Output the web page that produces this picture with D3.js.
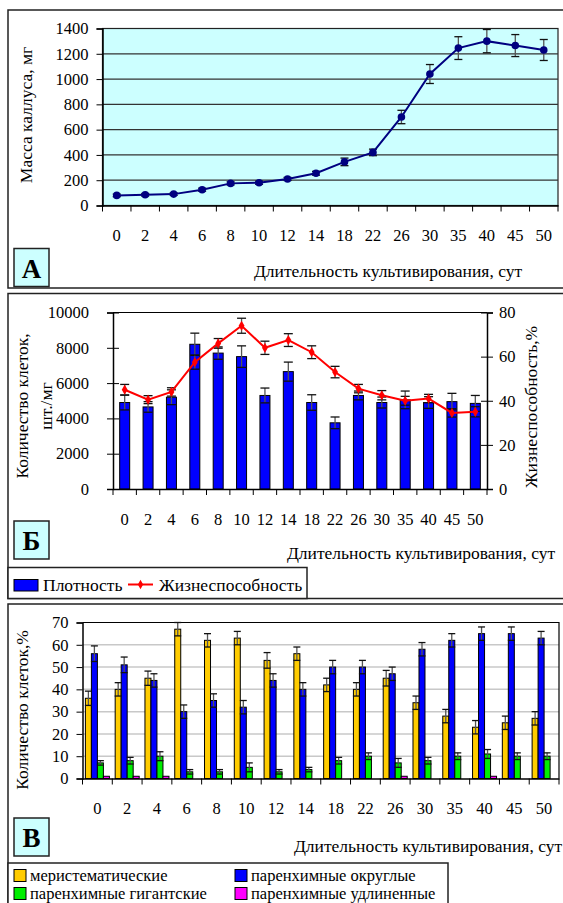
<!DOCTYPE html>
<html lang="ru">
<head>
  <meta charset="UTF-8">
  <title>Культивирование каллуса</title>
  <script src="https://d3js.org/d3.v7.min.js"></script>
  <style>
    body { margin: 0; background: #fff; }
    svg { font-family: "Liberation Serif", "Times New Roman", serif; }
    .tick text { font-size: 16.5px; fill: #000; font-family: "Liberation Serif", "Times New Roman", serif; }
    .domain, .tick line { stroke: #000; }
    .title { font-size: 17.5px; }
    .legend { font-size: 17.5px; }
    .legend-small { font-size: 16.5px; }
    .panel-letter { font-size: 27px; font-weight: bold; }
  </style>
</head>
<body>
<svg id="chart" width="563" height="903"></svg>
<script>
  // --- data ---
  const days = ["0","2","4","6","8","10","12","14","18","22","26","30","35","40","45","50"];

  // А: масса каллуса, мг
  const massMean = [80,85,90,125,175,180,210,255,345,420,700,1040,1245,1300,1265,1230];
  const massErr  = [10,10,10,12,12,12,12,15,30,26,53,75,90,92,87,83];
  const massTicks = [0,200,400,600,800,1000,1200,1400];

  // Б: плотность (шт./мг) и жизнеспособность (%)
  const density    = [4900,4650,5200,8200,7700,7500,5300,6650,4900,3750,5300,4900,5050,4900,4950,4850];
  const densityErr = [420,300,420,630,350,610,420,540,440,330,250,310,500,330,470,450];
  const viability    = [45,40.5,44,57.5,66,74,64,67.5,62,53,45.5,42.5,40,41,34.5,35];
  const viabilityErr = [2.4,1.8,1.9,3.2,2.2,3.4,3,2.9,2.9,2.6,1.9,2.1,2,1.9,1.9,2.3];
  const densityTicks = [0,2000,4000,6000,8000,10000];
  const viabilityTicks = [0,20,40,60,80];

  // В: доля типов клеток, %
  const merist    = [36,40,45,67,62,63,53,56,42,40,45,34,28,23,25,27];
  const meristErr = [3.2,3,3.2,3,3,3,3.5,3,3,3,3.5,3,3,3,3,3];
  const round     = [56,51,44,30,35,32,44,40,50,50,47,58,62,65,65,63];
  const roundErr  = [3.5,3.5,3,3,3,3,3,3,3,3,3,3,3,3,3,3];
  const giant     = [7,8,10,3,3,5,3,4,8,10,7,8,10,11,10,10];
  const giantErr  = [1,1.5,2,1,1,2,1,1,1.5,1.5,2,1.5,1.5,2,1.5,1.5];
  const elong     = [1,1,1,0,0,0,0,0,0,0,1,0,0,1,0,0];
  const cellTicks = [0,10,20,30,40,50,60,70];

  const cellSeries = [
    {name: "меристематические", values: merist, err: meristErr, color: "#ffcc00"},
    {name: "паренхимные округлые", values: round, err: roundErr, color: "#0000ff"},
    {name: "паренхимные гигантские", values: giant, err: giantErr, color: "#00ee00"},
    {name: "паренхимные удлиненные", values: elong, err: null, color: "#ff00ff"}
  ];

  const xTitle = "Длительность культивирования, сут";

  const svg = d3.select("#chart");

  // panel frames
  function frame(y0, y1) {
    svg.append("rect")
      .attr("x", 8).attr("y", y0)
      .attr("width", 570).attr("height", y1 - y0)
      .attr("fill", "#fff").attr("stroke", "#222").attr("stroke-width", 1.5);
  }
  frame(10, 288);
  frame(293.5, 598.5);
  frame(604, 920);

  function letterBox(y, txt) {
    svg.append("rect")
      .attr("x", 14).attr("y", y).attr("width", 35).attr("height", 38)
      .attr("fill", "#ccffff").attr("stroke", "#222").attr("stroke-width", 1.5);
    svg.append("text").attr("class", "panel-letter")
      .attr("x", 31.5).attr("y", y + 29).attr("text-anchor", "middle")
      .text(txt);
  }

  function styleAxis(ax) {
    ax.attr("font-family", null).attr("font-size", null);
    ax.select(".domain").attr("stroke-width", 1.5);
  }

  // x band axis with tick marks on band boundaries and labels at centers
  function bandAxis(g, x, yPos) {
    const ax = g.append("g").attr("transform", `translate(0,${yPos})`);
    ax.call(d3.axisBottom(x).tickSize(0).tickPadding(24));
    styleAxis(ax);
    ax.selectAll(".bound")
      .data(days.map(d => x(d)).concat([x.range()[1]]))
      .join("line")
      .attr("class", "bound")
      .attr("x1", d => d).attr("x2", d => d)
      .attr("y1", 0).attr("y2", 6)
      .attr("stroke", "#000");
  }

  function errBars(g, xs, ys, yLo, yHi, cap, color) {
    g.selectAll(null).data(xs.map((x, i) => i))
      .join("g")
      .each(function(i) {
        const s = d3.select(this);
        s.append("line").attr("x1", xs[i]).attr("x2", xs[i])
          .attr("y1", yLo[i]).attr("y2", yHi[i])
          .attr("stroke", color).attr("stroke-width", 1.3);
        [yLo[i], yHi[i]].forEach(v => s.append("line")
          .attr("x1", xs[i] - cap).attr("x2", xs[i] + cap)
          .attr("y1", v).attr("y2", v)
          .attr("stroke", "#111").attr("stroke-width", 1.3));
      });
  }

  // ===================== A =====================
  {
    const L = 102.5, R = 558, T = 28.5, B = 205.5;
    const x = d3.scaleBand().domain(days).range([L, R]);
    const y = d3.scaleLinear().domain([0, 1400]).range([B, T]);
    const g = svg.append("g");

    g.append("rect").attr("x", L).attr("y", T).attr("width", R - L).attr("height", B - T)
      .attr("fill", "#ccffff").attr("stroke", "#222").attr("stroke-width", 1.2);

    g.selectAll(".grid").data(massTicks.slice(1, -1)).join("line")
      .attr("x1", L).attr("x2", R).attr("y1", d => y(d)).attr("y2", d => y(d))
      .attr("stroke", "#333").attr("stroke-width", 1.2);

    const ya = g.append("g").attr("transform", `translate(${L},0)`)
      .call(d3.axisLeft(y).tickValues(massTicks).tickSize(6).tickPadding(8).tickFormat(d3.format("d")));
    styleAxis(ya);

    bandAxis(g, x, B);

    const cx = days.map(d => x(d) + x.bandwidth() / 2);
    errBars(g, cx, massMean,
      massMean.map((v, i) => y(v - massErr[i])),
      massMean.map((v, i) => y(v + massErr[i])), 4, "#555");

    g.append("path")
      .attr("d", d3.line().x((d, i) => cx[i]).y(d => y(d))(massMean))
      .attr("fill", "none").attr("stroke", "#000080").attr("stroke-width", 2);
    g.selectAll(".pt").data(massMean).join("circle")
      .attr("cx", (d, i) => cx[i]).attr("cy", d => y(d)).attr("r", 3.8)
      .attr("fill", "#000080");

    svg.append("text").attr("class", "title")
      .attr("transform", "translate(32,115) rotate(-90)")
      .attr("text-anchor", "middle").text("Масса каллуса, мг");
    svg.append("text").attr("class", "title")
      .attr("x", 388).attr("y", 277).attr("text-anchor", "middle").text(xTitle);
    letterBox(248.5, "А");
  }

  // ===================== Б =====================
  {
    const L = 113, R = 487, T = 312.5, B = 489;
    const x = d3.scaleBand().domain(days).range([L, R]);
    const y = d3.scaleLinear().domain([0, 10000]).range([B, T]);
    const y2 = d3.scaleLinear().domain([0, 80]).range([B, T]);
    const g = svg.append("g");

    g.append("line").attr("x1", L).attr("x2", R).attr("y1", T).attr("y2", T)
      .attr("stroke", "#000").attr("stroke-width", 1.2);

    const ya = g.append("g").attr("transform", `translate(${L},0)`)
      .call(d3.axisLeft(y).tickValues(densityTicks).tickSize(6).tickPadding(18).tickFormat(d3.format("d")));
    styleAxis(ya);
    ya.selectAll(".tick line").attr("x2", 6).attr("x1", -6);

    const yb = g.append("g").attr("transform", `translate(${R},0)`)
      .call(d3.axisRight(y2).tickValues(viabilityTicks).tickSize(6).tickPadding(6));
    styleAxis(yb);
    yb.selectAll(".tick line").attr("x1", -6).attr("x2", 6);

    const bw = 10;
    const cx = days.map(d => x(d) + x.bandwidth() / 2);
    g.selectAll(".bar").data(density).join("rect")
      .attr("x", (d, i) => cx[i] - bw / 2).attr("y", d => y(d))
      .attr("width", bw).attr("height", d => B - y(d))
      .attr("fill", "#0000ff").attr("stroke", "#000").attr("stroke-width", 1);

    bandAxis(g, x, B);

    errBars(g, cx, density,
      density.map((v, i) => y(v - densityErr[i])),
      density.map((v, i) => y(v + densityErr[i])), 4.5, "#555");
    errBars(g, cx, viability,
      viability.map((v, i) => y2(v - viabilityErr[i])),
      viability.map((v, i) => y2(v + viabilityErr[i])), 4.5, "#555");

    g.append("path")
      .attr("d", d3.line().x((d, i) => cx[i]).y(d => y2(d))(viability))
      .attr("fill", "none").attr("stroke", "#ff0000").attr("stroke-width", 2);
    g.selectAll(".vp").data(viability).join("path")
      .attr("d", d3.symbol(d3.symbolDiamond, 30))
      .attr("transform", (d, i) => `translate(${cx[i]},${y2(d)})`)
      .attr("fill", "#ff0000");

    svg.append("text").attr("class", "title")
      .attr("transform", "translate(28,406) rotate(-90)")
      .attr("text-anchor", "middle").text("Количество клеток,");
    svg.append("text").attr("class", "title")
      .attr("transform", "translate(52,406) rotate(-90)")
      .attr("text-anchor", "middle").text("шт./мг");
    svg.append("text").attr("class", "title")
      .attr("transform", "translate(537,407) rotate(-90)")
      .attr("text-anchor", "middle").text("Жизнеспособность,%");
    svg.append("text").attr("class", "title")
      .attr("x", 421).attr("y", 558.5).attr("text-anchor", "middle").text(xTitle);
    letterBox(521, "Б");

    // legend
    const lg = svg.append("g");
    lg.append("rect").attr("x", 8).attr("y", 567.5).attr("width", 299).attr("height", 31)
      .attr("fill", "#fff").attr("stroke", "#222").attr("stroke-width", 1.5);
    lg.append("rect").attr("x", 14).attr("y", 579.5).attr("width", 24).attr("height", 11.5)
      .attr("fill", "#0000ff").attr("stroke", "#000");
    lg.append("text").attr("class", "legend").attr("x", 43).attr("y", 591).text("Плотность");
    lg.append("line").attr("x1", 128).attr("x2", 153).attr("y1", 584.5).attr("y2", 584.5)
      .attr("stroke", "#ff0000").attr("stroke-width", 2);
    lg.append("path").attr("d", d3.symbol(d3.symbolDiamond, 25))
      .attr("transform", "translate(140.5,584.5)").attr("fill", "#ff0000");
    lg.append("text").attr("class", "legend").attr("x", 159).attr("y", 591).text("Жизнеспособность");
  }

  // ===================== В =====================
  {
    const L = 82.5, R = 559, T = 622.5, B = 778.5;
    const x = d3.scaleBand().domain(days).range([L, R]);
    const y = d3.scaleLinear().domain([0, 70]).range([B, T]);
    const g = svg.append("g");

    g.selectAll(".grid").data(cellTicks.slice(1, -1)).join("line")
      .attr("x1", L).attr("x2", R).attr("y1", d => y(d)).attr("y2", d => y(d))
      .attr("stroke", "#c8c8c8").attr("stroke-width", 1.5);
    g.append("polyline").attr("points", `${L},${T} ${R},${T} ${R},${B}`)
      .attr("fill", "none").attr("stroke", "#000").attr("stroke-width", 1.2);

    const ya = g.append("g").attr("transform", `translate(${L},0)`)
      .call(d3.axisLeft(y).tickValues(cellTicks).tickSize(6).tickPadding(8));
    styleAxis(ya);

    const bw = 6;
    const inner = d3.scaleBand().domain(d3.range(cellSeries.length))
      .range([0, bw * cellSeries.length]);
    const off = (x.bandwidth() - bw * cellSeries.length) / 2;

    cellSeries.forEach((s, k) => {
      const xs = days.map(d => x(d) + off + inner(k));
      g.selectAll(null).data(s.values).join("rect")
        .attr("x", (d, i) => xs[i]).attr("y", d => y(d))
        .attr("width", bw).attr("height", d => B - y(d))
        .attr("fill", s.color).attr("stroke", d => d > 0 ? "#000" : "none").attr("stroke-width", 1);
    });

    bandAxis(g, x, B);

    cellSeries.forEach((s, k) => {
      if (!s.err) return;
      const cx = days.map(d => x(d) + off + inner(k) + bw / 2);
      errBars(g, cx, s.values,
        s.values.map((v, i) => y(v - s.err[i])),
        s.values.map((v, i) => y(v + s.err[i])), 3.5, "#555");
    });

    svg.append("text").attr("class", "title")
      .attr("transform", "translate(28,710) rotate(-90)")
      .attr("text-anchor", "middle").text("Количество клеток,%");
    svg.append("text").attr("class", "title")
      .attr("x", 428).attr("y", 851.5).attr("text-anchor", "middle").text(xTitle);
    letterBox(818, "В");

    // legend
    const lg = svg.append("g");
    lg.append("rect").attr("x", 8).attr("y", 863).attr("width", 440).attr("height", 60)
      .attr("fill", "#fff").attr("stroke", "#222").attr("stroke-width", 1.5);
    const pos = [[14, 869.5], [235, 869.5], [14, 887.5], [235, 887.5]];
    cellSeries.forEach((s, j) => {
      const [px, py] = pos[j];
      lg.append("rect").attr("x", px).attr("y", py).attr("width", 12).attr("height", 12)
        .attr("fill", s.color).attr("stroke", "#000");
      lg.append("text").attr("class", "legend-small").attr("x", px + 16).attr("y", py + 11.5)
        .text(s.name);
    });
  }
</script>
</body>
</html>
